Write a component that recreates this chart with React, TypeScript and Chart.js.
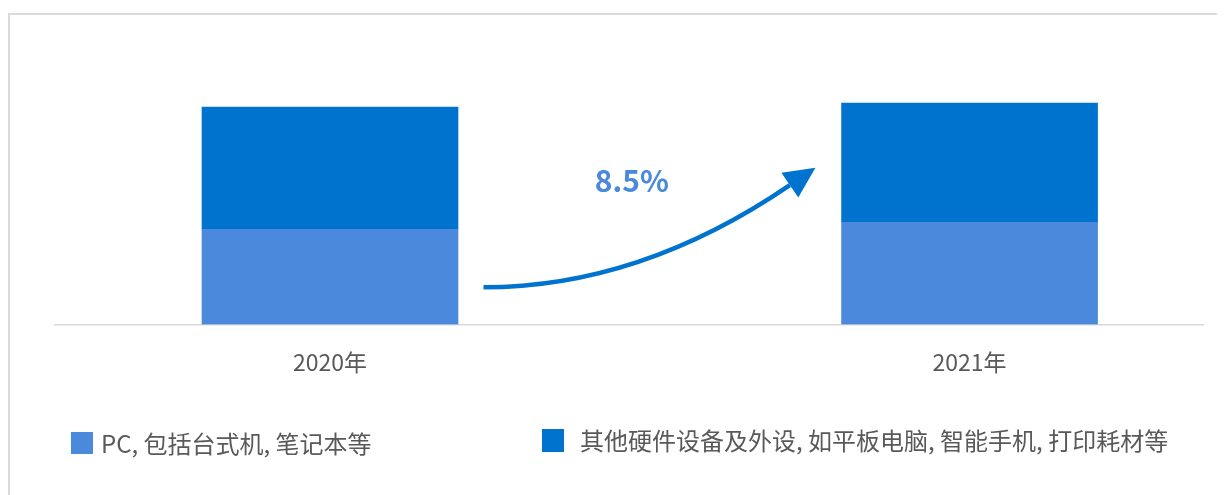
import React, { useEffect, useRef } from "react";
import { Chart, registerables } from "chart.js";

Chart.register(...registerables);

const categories = ["2020年", "2021年"];
const pcValues = [95, 102];
const otherValues = [122, 119];
const seriesNames = ["PC, 包括台式机, 笔记本等", "其他硬件设备及外设, 如平板电脑, 智能手机, 打印耗材等"];
const growthLabel = "8.5%";

const PC_COLOR = "#4A89DC";
const OTHER_COLOR = "#0073CF";
const TEXT_COLOR = "#595959";
const FONT = '"Noto Sans CJK SC", "Noto Sans", sans-serif';

const arrowPlugin = {
  id: "growthArrow",
  afterDatasetsDraw(chart: any) {
    const xs = chart.scales.x;
    const ys = chart.scales.y;
    const ctx = chart.ctx;
    const p0 = { x: xs.getPixelForValue(0.24), y: ys.getPixelForValue(37) };
    const p1 = { x: xs.getPixelForValue(0.485), y: ys.getPixelForValue(37) };
    const p2 = { x: xs.getPixelForValue(0.719), y: ys.getPixelForValue(139) };
    ctx.save();
    ctx.strokeStyle = OTHER_COLOR;
    ctx.fillStyle = OTHER_COLOR;
    ctx.lineWidth = 4.5;
    ctx.beginPath();
    ctx.moveTo(p0.x, p0.y);
    ctx.quadraticCurveTo(p1.x, p1.y, p2.x, p2.y);
    ctx.stroke();
    const dx = p2.x - p1.x;
    const dy = p2.y - p1.y;
    const len = Math.hypot(dx, dy);
    const ux = dx / len;
    const uy = dy / len;
    const headLen = 31;
    const half = 15;
    const tip = { x: p2.x + ux * headLen, y: p2.y + uy * headLen };
    ctx.beginPath();
    ctx.moveTo(tip.x, tip.y);
    ctx.lineTo(p2.x - uy * half, p2.y + ux * half);
    ctx.lineTo(p2.x + uy * half, p2.y - ux * half);
    ctx.closePath();
    ctx.fill();
    ctx.font = `bold 30px ${FONT}`;
    ctx.fillStyle = PC_COLOR;
    ctx.textAlign = "center";
    ctx.textBaseline = "middle";
    ctx.fillText(growthLabel, xs.getPixelForValue(0.472), ys.getPixelForValue(144));
    ctx.restore();
  },
};

export default function App() {
  const ref = useRef<HTMLCanvasElement | null>(null);
  useEffect(() => {
    if (!ref.current) return;
    const chart = new Chart(ref.current, {
      type: "bar",
      data: {
        datasets: [
          {
            label: seriesNames[0],
            data: pcValues.map((v, i) => ({ x: i, y: v })),
            backgroundColor: PC_COLOR,
            barThickness: 256,
          },
          {
            label: seriesNames[1],
            data: otherValues.map((v, i) => ({ x: i, y: v })),
            backgroundColor: OTHER_COLOR,
            barThickness: 256,
          },
        ],
      },
      options: {
        animation: false,
        responsive: false,
        maintainAspectRatio: false,
        layout: { padding: { left: 47, right: 22, top: 66, bottom: 95 } },
        plugins: { legend: { display: false }, tooltip: { enabled: false } },
        scales: {
          x: {
            type: "linear",
            stacked: true,
            offset: false,
            bounds: "data",
            min: -0.43,
            max: 1.365,
            afterBuildTicks: (scale: any) => {
              scale.ticks = categories.map((_, i) => ({ value: i }));
            },
            grid: { display: false, drawTicks: false, offset: false },
            border: { display: true, color: "#d9d9d9", width: 1.5 },
            ticks: {
              padding: 24,
              color: TEXT_COLOR,
              font: { family: FONT, size: 23 },
              maxRotation: 0,
              autoSkip: false,
              callback: (v: any) => categories[Math.round(Number(v))] ?? "",
            },
          },
          y: {
            stacked: true,
            display: false,
            min: 0,
            max: 250,
          },
        },
      },
      plugins: [arrowPlugin],
    });
    return () => chart.destroy();
  }, []);

  const legendText: React.CSSProperties = {
    position: "absolute",
    fontFamily: FONT,
    fontSize: 24,
    color: TEXT_COLOR,
    whiteSpace: "nowrap",
    lineHeight: "30px",
  };
  return (
    <div style={{ position: "relative", width: 1217, height: 487, overflow: "hidden" }}>
      <style>{`html,body{overflow:hidden;}`}</style>
      <div
        style={{
          position: "absolute",
          left: 0,
          top: 5,
          width: 1240,
          height: 500,
          border: "2px solid #dadada",
          boxSizing: "border-box",
        }}
      />
      <canvas ref={ref} width={1217} height={487} style={{ position: "absolute", left: 0, top: 0, width: 1217, height: 487 }} />
      <div style={{ position: "absolute", left: 63, top: 424, width: 22, height: 22, background: PC_COLOR }} />
      <div style={{ ...legendText, left: 93, top: 420 }}>{seriesNames[0]}</div>
      <div style={{ position: "absolute", left: 534, top: 421, width: 22, height: 23, background: OTHER_COLOR }} />
      <div style={{ ...legendText, left: 572, top: 417 }}>{seriesNames[1]}</div>
    </div>
  );
}
